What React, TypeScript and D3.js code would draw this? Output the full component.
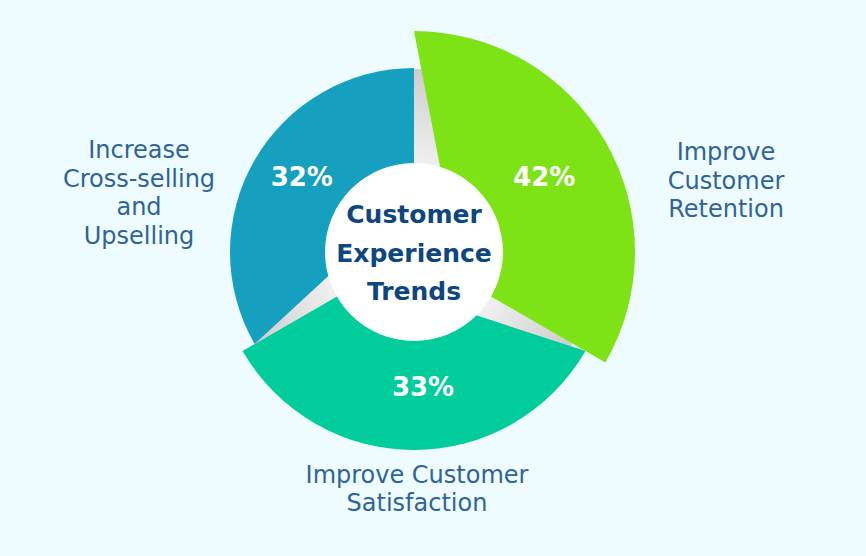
import React from "react";
import * as d3 from "d3";

// ---- data ----
const categories = [
  "Improve Customer Retention",
  "Improve Customer Satisfaction",
  "Increase Cross-selling and Upselling",
];
const labelLines = [
  ["Improve", "Customer", "Retention"],
  ["Improve Customer", "Satisfaction"],
  ["Increase", "Cross-selling", "and", "Upselling"],
];
const values = [42, 33, 32];
const valueLabels = values.map((v) => `${v}%`);
const colors = ["#7ee314", "#00cc9c", "#16a0c0"];
const centerTitle = ["Customer", "Experience", "Trends"];

// ---- layout ----
const W = 866;
const H = 556;
const cx = 414;
const cy = 252;
const innerR = 89;
const apexDist = 55;

const rScale = d3.scaleLinear().domain([32, 33, 42]).range([184, 198, 221]);
const pie = d3
  .pie<number>()
  .value(() => 1)
  .sort(null);

const pt = (a: number, r: number): [number, number] => [
  cx + r * Math.sin(a),
  cy - r * Math.cos(a),
];

export default function App() {
  const arcs = pie(values);
  const shadeR = (d3.min(values, (v) => rScale(v)) as number) - 1;

  return (
    <svg
      width={W}
      height={H}
      style={{ position: "absolute", left: 0, top: 0, display: "block" }}
    >
      <defs>
        <radialGradient
          id="shade"
          gradientUnits="userSpaceOnUse"
          cx={cx}
          cy={cy}
          r={shadeR}
        >
          <stop offset={innerR / shadeR} stopColor="#f0f0f0" />
          <stop offset={1} stopColor="#cdcdcd" />
        </radialGradient>
      </defs>
      <rect width={W} height={H} fill="#effcff" />
      <circle cx={cx} cy={cy} r={shadeR} fill="url(#shade)" />
      {arcs.map((a, i) => {
        const R = rScale(values[i]);
        const p = d3.path();
        const apex = pt(a.endAngle, apexDist);
        const sc = pt(a.startAngle, R);
        p.moveTo(apex[0], apex[1]);
        p.lineTo(sc[0], sc[1]);
        p.arc(cx, cy, R, a.startAngle - Math.PI / 2, a.endAngle - Math.PI / 2, false);
        p.closePath();
        return <path key={categories[i]} d={p.toString()} fill={colors[i]} />;
      })}
      <circle cx={cx} cy={cy} r={innerR} fill="#ffffff" />
      {/* center title */}
      <g
        fontFamily="DejaVu Sans"
        fontWeight="bold"
        fontSize={25}
        fill="#0e4680"
        textAnchor="middle"
      >
        {centerTitle.map((t, k) => (
          <text key={t} x={cx} y={cy - 29 + k * 38.5}>
            {t}
          </text>
        ))}
      </g>
      {/* percent labels */}
      <g
        fontFamily="DejaVu Sans"
        fontWeight="bold"
        fontSize={26}
        fill="#ffffff"
        textAnchor="middle"
      >
        {arcs.map((a, i) => {
          const mid = (a.startAngle + a.endAngle) / 2;
          const [x, y] = pt(mid, 140);
          return (
            <text key={i} x={x + 9} y={y - 6 + 10}>
              {valueLabels[i]}
            </text>
          );
        })}
      </g>
      {/* category labels */}
      <g
        fontFamily="DejaVu Sans"
        fontSize={24}
        fill="#2e6496"
        textAnchor="middle"
      >
        {arcs.map((a, i) => {
          const R = rScale(values[i]);
          const mid = (a.startAngle + a.endAngle) / 2;
          const [bx, by] = pt(mid, R);
          const s = Math.sin(mid);
          const lines = labelLines[i];
          const lh = 28.4;
          let x: number;
          let y0: number;
          if (Math.abs(s) > 0.5) {
            x = cx + Math.sign(s) * (R + 91);
            const center = cy + 0.65 * (by - cy);
            y0 = center - ((lines.length - 1) / 2) * lh + 8.7;
          } else {
            x = bx + 3;
            y0 = by + 33;
          }
          return (
            <text key={categories[i]}>
              {lines.map((l, k) => (
                <tspan key={k} x={x} y={y0 + k * lh}>
                  {l}
                </tspan>
              ))}
            </text>
          );
        })}
      </g>
    </svg>
  );
}
